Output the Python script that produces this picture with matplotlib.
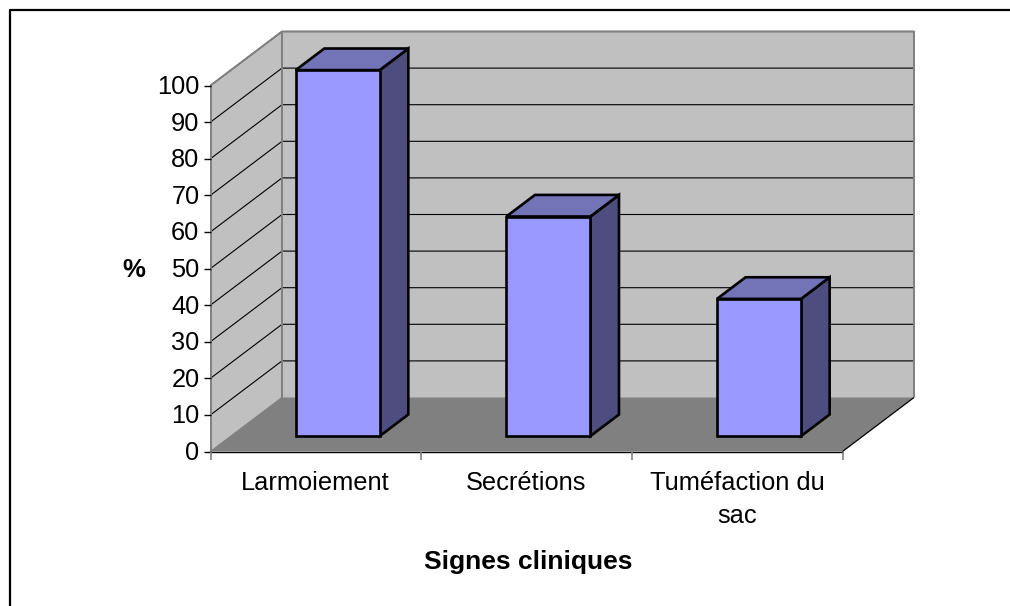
import matplotlib
matplotlib.use("Agg")
import matplotlib.pyplot as plt
from matplotlib.patches import Polygon

categories = ["Larmoiement", "Secrétions", "Tuméfaction du\nsac"]
values = [100, 60, 37.5]
yticks = list(range(0, 101, 10))

W, H = 1010, 606
# front plane of the chart, in pixels
left, right, y0, y100 = 210.5, 842.5, 451.5, 85.5
depth_x, depth_y = 71.5, 54.0

plt.rcParams['font.family'] = ['Liberation Sans', 'DejaVu Sans']

fig = plt.figure(figsize=(W / 100, H / 100), dpi=100)
ax = fig.add_axes([left / W, 1 - y0 / H, (right - left) / W, (y0 - y100) / H])
ax.set_xlim(0, 3)
ax.set_ylim(0, 100)
ax.axis('off')

# depth in data units
sx = depth_x / ((right - left) / 3)
sy = depth_y / ((y0 - y100) / 100)
# one pixel in data units
px = 3 / (right - left)
py = 100 / (y0 - y100)


def pt(x, y, d=0.0):
    return (x + d * sx, y + d * sy)


def face(points, color, edge='none', lw=0, z=1):
    ax.add_patch(Polygon(points, closed=True, facecolor=color, edgecolor=edge,
                         linewidth=lw, clip_on=False, zorder=z, joinstyle='miter'))


def line(points, color='black', lw=1.0, z=2):
    xs = [p[0] for p in points]
    ys = [p[1] for p in points]
    ax.plot(xs, ys, color=color, lw=lw, clip_on=False, zorder=z, solid_capstyle='butt')


# frame, only top and left show up
fig.add_artist(plt.Line2D([10 / W, 10 / W, 1], [0, 1 - 10 / H, 1 - 10 / H], color='black',
                          linewidth=1.6, transform=fig.transFigure))

# walls and floor
wall = '#c0c0c0'
floor = '#808080'
edge = '#808080'
face([pt(0, 0, 1), pt(3, 0, 1), pt(3, 100, 1), pt(0, 100, 1)], wall, z=1)
face([pt(0, 0, 0), pt(0, 0, 1), pt(0, 100, 1), pt(0, 100, 0)], wall, z=1)
face([pt(0, 0, 0), pt(3, 0, 0), pt(3, 0, 1), pt(0, 0, 1)], floor, z=1.1)

for t in yticks[1:]:
    line([pt(0, t, 0), pt(0, t, 1), pt(3, t, 1)], lw=0.8, z=1.2)

line([pt(0, 100, 0), pt(0, 100, 1), pt(3, 100, 1), pt(3, 0, 1)], color=edge, lw=1.4, z=1.3)
line([pt(0, 0, 1), pt(0, 100, 1)], color=edge, lw=1.4, z=1.3)
line([pt(0, 0, 0), pt(0, 0, 1)], color=edge, lw=0.9, z=1.3)
line([pt(3, 0, 0), pt(3, 0, 1)], color='black', lw=0.9, z=1.3)

# axes and ticks
line([pt(0, 0), pt(0, 100)], color=edge, lw=1.4, z=1.4)
line([pt(0, 0), pt(3, 0)], color='black', lw=1.0, z=1.4)
for t in yticks:
    line([(0, t), (-7 * px, t)], lw=1.0, z=1.4)
    ax.text(-11 * px, t - 1.5 * py, str(t), ha='right', va='center', fontsize=18.3,
            color='black', clip_on=False)
for i in range(4):
    line([(i, 0), (i, -8.5 * py)], color=edge, lw=1.2, z=1.4)

# bars
bar_w = 84 * px
near = 0.285
far = 0.685
for i, v in enumerate(values):
    xa = i + 0.5 - bar_w / 2 + 1.5 * px
    xb = xa + bar_w
    f = [pt(xa, 0, near), pt(xb, 0, near), pt(xb, v, near), pt(xa, v, near)]
    s = [pt(xb, 0, near), pt(xb, 0, far), pt(xb, v, far), pt(xb, v, near)]
    top = [pt(xa, v, near), pt(xb, v, near), pt(xb, v, far), pt(xa, v, far)]
    face(s, '#4d4d80', 'black', 1.9, z=3)
    face(top, '#7373b8', 'black', 1.9, z=3)
    face(f, '#9999ff', 'black', 1.9, z=3.1)

# category labels
for i, c in enumerate(categories):
    ax.text(i + 0.5 - 0.015 + 3 * px, -5.3, c, ha='center', va='top', fontsize=18.3,
            color='black', linespacing=1.5, clip_on=False)

fig.text(134 / W, 1 - 270 / H, '%', ha='center', va='center', fontsize=18.5, fontweight='bold')
fig.text(528 / W, 1 - 562 / H, 'Signes cliniques', ha='center', va='center', fontsize=19,
         fontweight='bold')

fig.savefig('out.png', dpi=100, facecolor='white')
